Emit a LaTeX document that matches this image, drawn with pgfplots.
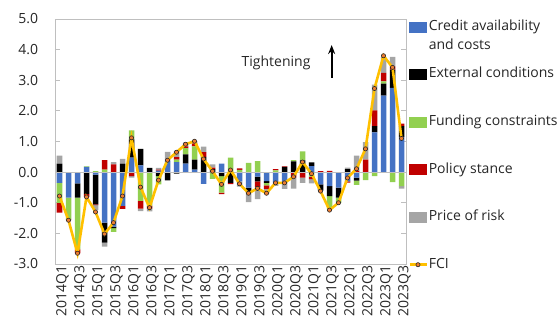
\documentclass[border=0pt]{standalone}
\usepackage{pgfplots}
\pgfplotsset{compat=1.18}
\usepackage{pgfplotstable}
\usetikzlibrary{arrows.meta}
\usepackage{fontspec}
\setmainfont{Open Sans}
\definecolor{credit}{HTML}{4472C4}
\definecolor{external}{HTML}{000000}
\definecolor{funding}{HTML}{92D050}
\definecolor{policy}{HTML}{C00000}
\definecolor{price}{HTML}{A5A5A5}
\definecolor{fciline}{HTML}{FFC000}
\definecolor{fcimark}{HTML}{ED7D31}
\definecolor{axiscol}{HTML}{BFBFBF}
\definecolor{txt}{HTML}{262626}

\pgfplotstableread{
q credit external funding policy price fci
0 -0.35 0.28 -0.65 -0.32 0.26 -0.78
1 -0.83 0.00 -0.72 -0.02 0.00 -1.57
2 -0.37 -0.46 -1.69 -0.13 0.00 -2.65
3 0.17 -0.72 0.02 -0.10 0.00 -0.81
4 -0.08 -0.97 0.03 -0.03 -0.15 -1.30
5 -1.65 -0.65 0.08 0.31 -0.13 -2.02
6 -1.78 -0.05 -0.12 0.25 0.08 -1.65
7 -1.10 0.28 0.00 -0.10 0.15 -0.78
8 0.47 0.60 0.29 -0.13 -0.05 1.12
9 0.22 0.54 -0.94 -0.25 -0.08 -0.49
10 0.00 0.14 -1.09 -0.10 -0.09 -1.16
11 0.05 -0.13 -0.27 0.03 0.06 -0.26
12 0.36 -0.27 0.00 0.00 0.30 0.39
13 0.33 -0.05 0.08 0.08 0.20 0.65
14 0.28 0.30 0.20 0.06 0.12 0.91
15 0.08 0.33 0.43 0.10 0.07 1.01
16 -0.38 0.50 0.00 0.15 0.18 0.43
17 0.00 0.10 -0.22 0.05 0.10 0.03
18 0.28 -0.13 -0.54 -0.05 0.00 -0.40
19 0.00 -0.35 0.47 -0.04 0.00 0.07
20 -0.30 0.00 0.07 0.05 -0.17 -0.38
21 -0.51 -0.16 0.30 0.00 -0.31 -0.69
22 -0.15 -0.15 0.36 -0.20 -0.38 -0.53
23 -0.29 -0.06 -0.08 -0.12 -0.14 -0.69
24 -0.32 0.00 0.06 0.04 -0.13 -0.35
25 -0.35 0.17 0.00 0.02 -0.20 -0.35
26 0.00 0.35 0.04 -0.18 -0.36 -0.15
27 0.00 0.38 0.30 -0.18 -0.17 0.33
28 0.20 0.12 -0.15 -0.08 -0.14 -0.05
29 -0.40 -0.20 0.00 0.03 0.00 -0.62
30 -0.46 -0.32 -0.43 0.04 0.00 -1.24
31 -0.51 -0.32 -0.17 0.00 0.00 -1.00
32 -0.30 0.10 0.00 -0.04 0.05 -0.19
33 -0.18 -0.10 -0.14 0.05 0.49 0.11
34 0.00 0.00 -0.26 0.41 0.57 0.76
35 1.30 0.20 -0.13 0.52 0.84 2.73
36 2.50 0.39 0.07 0.28 0.52 3.80
37 2.75 0.60 -0.33 0.10 0.31 3.42
38 1.15 0.35 -0.46 0.08 -0.08 1.10
}\datatable

\begin{document}
\fontsize{14bp}{16.8bp}\selectfont
\begin{tikzpicture}
\pgfplotsset{common/.style={width=351bp, height=245bp, scale only axis,
  xmin=-0.5, xmax=38.5, ymin=-3, ymax=5, at={(0,0)}, anchor=south west}}
\path[use as bounding box] (-55bp,-60bp) rectangle (503bp,264bp);

% axis 1: frame, ticks, positive parts
\begin{axis}[common, ybar stacked, bar width=5.5bp,
  axis line style={axiscol, line width=0.8bp},
  xtick={0,2,...,38},
  xticklabels={2014Q1,2014Q3,2015Q1,2015Q3,2016Q1,2016Q3,2017Q1,2017Q3,2018Q1,2018Q3,2019Q1,2019Q3,2020Q1,2020Q3,2021Q1,2021Q3,2022Q1,2022Q3,2023Q1,2023Q3},
  xtick style={draw=none},
  xticklabel style={rotate=90, anchor=east, yshift=-3bp, text=txt, inner sep=1bp},
  ytick={-3,-2,...,5},
  tick align=inside, major tick length=5bp,
  ytick style={axiscol, line width=0.8bp},
  yticklabel style={xshift=-12bp, text=txt},
  /pgf/number format/.cd, fixed, fixed zerofill, precision=1, assume math mode=true]
\addplot[fill=credit, draw=none] table[x=q, y expr={max(\thisrow{credit},0)}] {\datatable};
\addplot[fill=external, draw=none] table[x=q, y expr={max(\thisrow{external},0)}] {\datatable};
\addplot[fill=funding, draw=none] table[x=q, y expr={max(\thisrow{funding},0)}] {\datatable};
\addplot[fill=policy, draw=none] table[x=q, y expr={max(\thisrow{policy},0)}] {\datatable};
\addplot[fill=price, draw=none] table[x=q, y expr={max(\thisrow{price},0)}] {\datatable};
\end{axis}

% axis 2: negative parts
\begin{axis}[common, hide axis, ybar stacked, bar width=5.5bp]
\addplot[fill=credit, draw=none] table[x=q, y expr={min(\thisrow{credit},0)}] {\datatable};
\addplot[fill=external, draw=none] table[x=q, y expr={min(\thisrow{external},0)}] {\datatable};
\addplot[fill=funding, draw=none] table[x=q, y expr={min(\thisrow{funding},0)}] {\datatable};
\addplot[fill=policy, draw=none] table[x=q, y expr={min(\thisrow{policy},0)}] {\datatable};
\addplot[fill=price, draw=none] table[x=q, y expr={min(\thisrow{price},0)}] {\datatable};
\end{axis}

% axis 3: zero line, FCI, legend, annotation
\begin{axis}[common, hide axis,
  legend style={at={(axis description cs:1,1)}, anchor=north west, xshift=2bp, yshift=0bp,
    draw=none, fill=none, inner sep=0pt, row sep=32.6bp,
    nodes={inner sep=1bp, text height=10bp, text depth=3bp, text=txt},
    /tikz/every even column/.append style={column sep=1bp}},
  legend cell align=left]
\addplot[axiscol, line width=0.8bp, no marks, forget plot] coordinates {(-0.5,0) (38.5,0)};
\addlegendimage{legend image code/.code={\fill[credit] (0bp,-5bp) rectangle (17bp,5bp);}}
\addlegendentry{\begin{tabular}[t]{@{}l@{}}Credit availability\\[2.5bp]and costs\end{tabular}}
\addlegendimage{legend image code/.code={\fill[external] (0bp,-5bp) rectangle (17bp,5bp);}}
\addlegendentry{External conditions}
\addlegendimage{legend image code/.code={\fill[funding] (0bp,-5bp) rectangle (17bp,5bp);}}
\addlegendentry{Funding constraints}
\addlegendimage{legend image code/.code={\fill[policy] (0bp,-5bp) rectangle (17bp,5bp);}}
\addlegendentry{Policy stance}
\addlegendimage{legend image code/.code={\fill[price] (0bp,-5bp) rectangle (17bp,5bp);}}
\addlegendentry{Price of risk}
\addplot[color=fciline, line width=2.6bp, mark=*, mark size=2.1bp,
  mark options={fill=fcimark, draw=black!85, line width=0.6bp, solid},
  legend image code/.code={\draw[fciline, line width=2.6bp] (0bp,0bp) -- (17bp,0bp);
    \draw[fill=fcimark, draw=black!85, line width=0.6bp] (8.5bp,0bp) circle (2.1bp);}]
  table[x=q, y=fci] {\datatable};
\addlegendentry{FCI}
\node[text=txt] at (axis cs:24.06,3.57) {Tightening};
\draw[-{Stealth[length=9bp,width=7bp]}, line width=1.8bp, black] (axis cs:30.24,3.08) -- (axis cs:30.24,4.15);
\end{axis}
\end{tikzpicture}
\end{document}
